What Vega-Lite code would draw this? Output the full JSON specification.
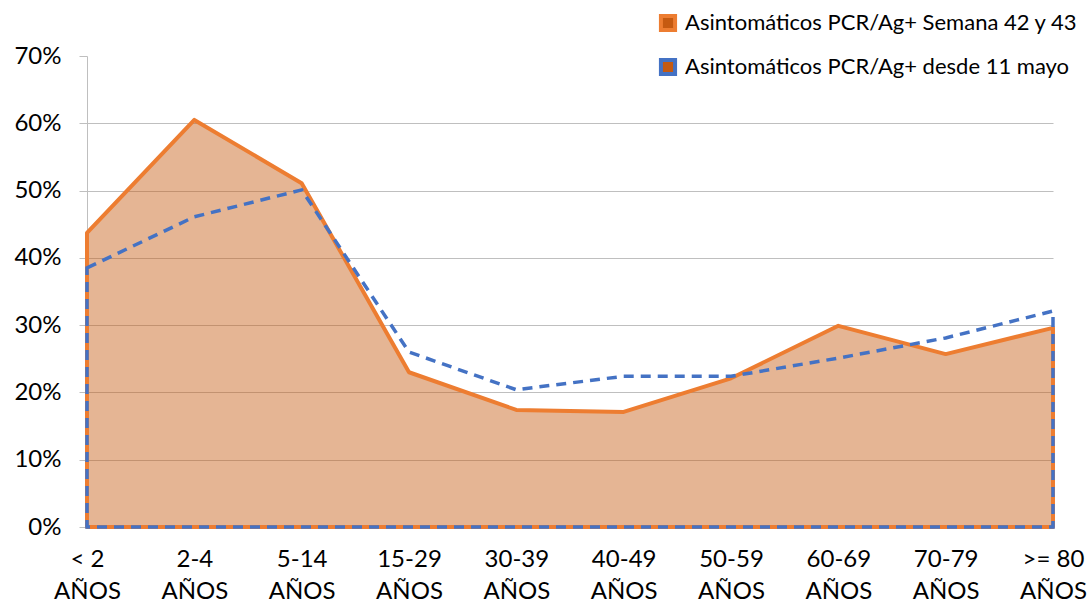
{
  "$schema": "https://vega.github.io/schema/vega-lite/v6.json",
  "autosize": {"type": "none"},
  "padding": {"left": 87, "top": 56, "right": 36, "bottom": 80},
  "width": 966,
  "height": 471,
  "background": "white",
  "config": {
    "view": {"stroke": null},
    "font": "Lato",
    "axis": {"labelFont": "Lato", "labelColor": "#000000"},
    "legend": {"labelFont": "Lato"}
  },
  "data": {
    "values": [
      {"grupo": "< 2 AÑOS", "serie": "Asintomáticos PCR/Ag+ Semana 42 y 43", "valor": 0.437},
      {"grupo": "2-4 AÑOS", "serie": "Asintomáticos PCR/Ag+ Semana 42 y 43", "valor": 0.605},
      {"grupo": "5-14 AÑOS", "serie": "Asintomáticos PCR/Ag+ Semana 42 y 43", "valor": 0.511},
      {"grupo": "15-29 AÑOS", "serie": "Asintomáticos PCR/Ag+ Semana 42 y 43", "valor": 0.230},
      {"grupo": "30-39 AÑOS", "serie": "Asintomáticos PCR/Ag+ Semana 42 y 43", "valor": 0.174},
      {"grupo": "40-49 AÑOS", "serie": "Asintomáticos PCR/Ag+ Semana 42 y 43", "valor": 0.171},
      {"grupo": "50-59 AÑOS", "serie": "Asintomáticos PCR/Ag+ Semana 42 y 43", "valor": 0.221},
      {"grupo": "60-69 AÑOS", "serie": "Asintomáticos PCR/Ag+ Semana 42 y 43", "valor": 0.299},
      {"grupo": "70-79 AÑOS", "serie": "Asintomáticos PCR/Ag+ Semana 42 y 43", "valor": 0.257},
      {"grupo": ">= 80 AÑOS", "serie": "Asintomáticos PCR/Ag+ Semana 42 y 43", "valor": 0.296},
      {"grupo": "< 2 AÑOS", "serie": "Asintomáticos PCR/Ag+ desde 11 mayo", "valor": 0.385},
      {"grupo": "2-4 AÑOS", "serie": "Asintomáticos PCR/Ag+ desde 11 mayo", "valor": 0.461},
      {"grupo": "5-14 AÑOS", "serie": "Asintomáticos PCR/Ag+ desde 11 mayo", "valor": 0.501},
      {"grupo": "15-29 AÑOS", "serie": "Asintomáticos PCR/Ag+ desde 11 mayo", "valor": 0.260},
      {"grupo": "30-39 AÑOS", "serie": "Asintomáticos PCR/Ag+ desde 11 mayo", "valor": 0.204},
      {"grupo": "40-49 AÑOS", "serie": "Asintomáticos PCR/Ag+ desde 11 mayo", "valor": 0.224},
      {"grupo": "50-59 AÑOS", "serie": "Asintomáticos PCR/Ag+ desde 11 mayo", "valor": 0.224},
      {"grupo": "60-69 AÑOS", "serie": "Asintomáticos PCR/Ag+ desde 11 mayo", "valor": 0.251},
      {"grupo": "70-79 AÑOS", "serie": "Asintomáticos PCR/Ag+ desde 11 mayo", "valor": 0.281},
      {"grupo": ">= 80 AÑOS", "serie": "Asintomáticos PCR/Ag+ desde 11 mayo", "valor": 0.321}
    ]
  },
  "encoding": {
    "x": {
      "field": "grupo",
      "type": "ordinal",
      "sort": null,
      "scale": {"type": "point", "padding": 0},
      "axis": {
        "title": null,
        "labelAngle": 0,
        "domain": false,
        "ticks": false,
        "grid": false,
        "labelFontSize": 24,
        "labelPadding": 20,
        "labelLineHeight": 32,
        "labelExpr": "[replace(datum.label, ' AÑOS', ''), 'AÑOS']"
      }
    },
    "y": {
      "field": "valor",
      "type": "quantitative",
      "scale": {"domain": [0, 0.7], "nice": false},
      "axis": {
        "title": null,
        "values": [0, 0.1, 0.2, 0.3, 0.4, 0.5, 0.6, 0.7],
        "format": ".0%",
        "labelFontSize": 24,
        "labelPadding": 18,
        "tickSize": 8,
        "tickColor": "#BFBFBF",
        "domainColor": "#BFBFBF",
        "gridColor": "#BFBFBF",
        "gridOpacity": {"condition": {"test": "datum.value >= 0.69 || datum.value < 0.01", "value": 0}, "value": 1}
      }
    },
    "stroke": {
      "field": "serie",
      "type": "nominal",
      "scale": {
        "domain": ["Asintomáticos PCR/Ag+ Semana 42 y 43", "Asintomáticos PCR/Ag+ desde 11 mayo"],
        "range": ["#ED7D31", "#4472C4"]
      },
      "legend": {
        "title": null,
        "orient": "none",
        "legendX": 570,
        "legendY": -44,
        "symbolType": "square",
        "symbolSize": 200,
        "symbolStrokeWidth": 4,
        "labelFontSize": 22,
        "labelLimit": 0,
        "labelOffset": 6,
        "rowPadding": 12,
        "labelColor": "#000000",
        "encode": {
          "symbols": {
            "fill": {"value": {"expr": "datum.value === 'Asintomáticos PCR/Ag+ Semana 42 y 43' ? '#E4B592' : 'transparent'"}},
            "fillOpacity": {"value": {"expr": "datum.value === 'Asintomáticos PCR/Ag+ Semana 42 y 43' ? 0.4 : 0"}},
            "strokeDash": {"value": {"expr": "datum.value === 'Asintomáticos PCR/Ag+ Semana 42 y 43' ? [1, 0] : [7, 6]"}}
          }
        }
      }
    }
  },
  "layer": [
    {
      "transform": [{"filter": "datum.serie === 'Asintomáticos PCR/Ag+ Semana 42 y 43'"}],
      "mark": {"type": "area", "fill": "#C55A11", "fillOpacity": 0.45, "strokeWidth": 4, "strokeJoin": "round"}
    },
    {
      "transform": [{"filter": "datum.serie === 'Asintomáticos PCR/Ag+ desde 11 mayo'"}],
      "mark": {"type": "area", "fill": "#4472C4", "fillOpacity": 0, "strokeWidth": 3.5, "strokeDash": [10, 7]}
    }
  ]
}
